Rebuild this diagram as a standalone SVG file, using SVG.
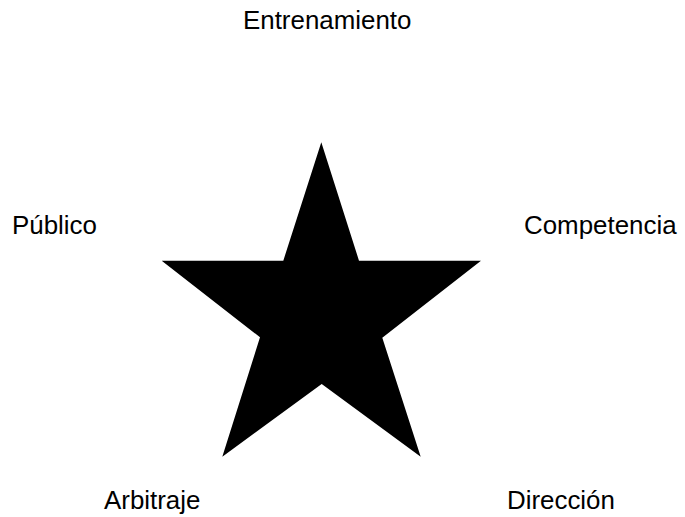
<svg xmlns="http://www.w3.org/2000/svg" width="685" height="517" viewBox="0 0 685 517">
<style>
.lbl{font-family:"Liberation Sans",Arial,sans-serif;font-size:25.9px;fill:#000}
</style>
<rect width="685" height="517" fill="#fff"/>
<g id="connectors"></g>
<g id="star">
<polygon points="321.3,142.3 359,260.7 481,260.7 382.3,337.7 420.7,456.7 321.7,384 222.3,456.7 260,337.3 161.7,260.7 283.3,260.7" fill="#000"/>
</g>
<g id="entrenamiento"><text class="lbl" x="243" y="29">Entrenamiento</text></g>
<g id="publico"><text class="lbl" x="12" y="234">Público</text></g>
<g id="competencia"><text class="lbl" x="524" y="234">Competencia</text></g>
<g id="arbitraje"><text class="lbl" x="104" y="509">Arbitraje</text></g>
<g id="direccion"><text class="lbl" x="507" y="509">Dirección</text></g>
</svg>
